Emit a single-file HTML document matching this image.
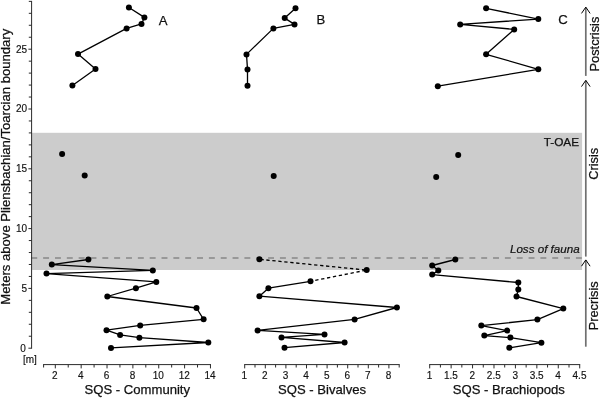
<!DOCTYPE html>
<html lang="en">
<head>
<meta charset="utf-8">
<title>SQS diversity across the Pliensbachian/Toarcian boundary</title>
<style>
html,body{margin:0;padding:0;background:#fff;}
body{width:600px;height:398px;overflow:hidden;}
svg{display:block;}
svg text{font-family:"Liberation Sans",sans-serif;fill:#111;stroke:#111;}
</style>
</head>
<body>
<svg width="600" height="398" viewBox="0 0 600 398">
<rect width="600" height="398" fill="#ffffff"/>
<rect x="31.7" y="132.8" width="550.4" height="137.2" fill="#cccccc"/>
<line x1="31.3" y1="258" x2="581.8" y2="258" stroke="#868686" stroke-width="1.3" stroke-dasharray="5.92 5.92"/>
<g stroke="#2a2a2a" stroke-width="1" fill="none"><line x1="31.6" y1="0.9" x2="31.6" y2="348.7"/><line x1="28.4" y1="348.20" x2="31.6" y2="348.20"/><line x1="28.8" y1="336.24" x2="31.6" y2="336.24"/><line x1="28.8" y1="324.28" x2="31.6" y2="324.28"/><line x1="28.8" y1="312.32" x2="31.6" y2="312.32"/><line x1="28.8" y1="300.36" x2="31.6" y2="300.36"/><line x1="28.4" y1="288.40" x2="31.6" y2="288.40"/><line x1="28.8" y1="276.44" x2="31.6" y2="276.44"/><line x1="28.8" y1="264.48" x2="31.6" y2="264.48"/><line x1="28.8" y1="252.52" x2="31.6" y2="252.52"/><line x1="28.8" y1="240.56" x2="31.6" y2="240.56"/><line x1="28.4" y1="228.60" x2="31.6" y2="228.60"/><line x1="28.8" y1="216.64" x2="31.6" y2="216.64"/><line x1="28.8" y1="204.68" x2="31.6" y2="204.68"/><line x1="28.8" y1="192.72" x2="31.6" y2="192.72"/><line x1="28.8" y1="180.76" x2="31.6" y2="180.76"/><line x1="28.4" y1="168.80" x2="31.6" y2="168.80"/><line x1="28.8" y1="156.84" x2="31.6" y2="156.84"/><line x1="28.8" y1="144.88" x2="31.6" y2="144.88"/><line x1="28.8" y1="132.92" x2="31.6" y2="132.92"/><line x1="28.8" y1="120.96" x2="31.6" y2="120.96"/><line x1="28.4" y1="109.00" x2="31.6" y2="109.00"/><line x1="28.8" y1="97.04" x2="31.6" y2="97.04"/><line x1="28.8" y1="85.08" x2="31.6" y2="85.08"/><line x1="28.8" y1="73.12" x2="31.6" y2="73.12"/><line x1="28.8" y1="61.16" x2="31.6" y2="61.16"/><line x1="28.4" y1="49.20" x2="31.6" y2="49.20"/><line x1="28.8" y1="37.24" x2="31.6" y2="37.24"/><line x1="28.8" y1="25.28" x2="31.6" y2="25.28"/><line x1="28.8" y1="13.32" x2="31.6" y2="13.32"/><line x1="28.8" y1="1.36" x2="31.6" y2="1.36"/><line x1="43.1" y1="364.6" x2="211.0" y2="364.6"/><line x1="55.30" y1="364.6" x2="55.30" y2="368.4"/><line x1="81.16" y1="364.6" x2="81.16" y2="368.4"/><line x1="107.02" y1="364.6" x2="107.02" y2="368.4"/><line x1="132.88" y1="364.6" x2="132.88" y2="368.4"/><line x1="158.74" y1="364.6" x2="158.74" y2="368.4"/><line x1="184.60" y1="364.6" x2="184.60" y2="368.4"/><line x1="210.46" y1="364.6" x2="210.46" y2="368.4"/><line x1="43.60" y1="364.6" x2="43.60" y2="367.5"/><line x1="68.23" y1="364.6" x2="68.23" y2="367.5"/><line x1="94.09" y1="364.6" x2="94.09" y2="367.5"/><line x1="119.95" y1="364.6" x2="119.95" y2="367.5"/><line x1="145.81" y1="364.6" x2="145.81" y2="367.5"/><line x1="171.67" y1="364.6" x2="171.67" y2="367.5"/><line x1="197.53" y1="364.6" x2="197.53" y2="367.5"/><line x1="244.2" y1="364.6" x2="399.7" y2="364.6"/><line x1="244.70" y1="364.6" x2="244.70" y2="368.4"/><line x1="265.30" y1="364.6" x2="265.30" y2="368.4"/><line x1="285.90" y1="364.6" x2="285.90" y2="368.4"/><line x1="306.50" y1="364.6" x2="306.50" y2="368.4"/><line x1="327.10" y1="364.6" x2="327.10" y2="368.4"/><line x1="347.70" y1="364.6" x2="347.70" y2="368.4"/><line x1="368.30" y1="364.6" x2="368.30" y2="368.4"/><line x1="388.90" y1="364.6" x2="388.90" y2="368.4"/><line x1="255.00" y1="364.6" x2="255.00" y2="367.5"/><line x1="275.60" y1="364.6" x2="275.60" y2="367.5"/><line x1="296.20" y1="364.6" x2="296.20" y2="367.5"/><line x1="316.80" y1="364.6" x2="316.80" y2="367.5"/><line x1="337.40" y1="364.6" x2="337.40" y2="367.5"/><line x1="358.00" y1="364.6" x2="358.00" y2="367.5"/><line x1="378.60" y1="364.6" x2="378.60" y2="367.5"/><line x1="399.20" y1="364.6" x2="399.20" y2="367.5"/><line x1="429.2" y1="364.6" x2="580.2" y2="364.6"/><line x1="429.70" y1="364.6" x2="429.70" y2="368.4"/><line x1="451.13" y1="364.6" x2="451.13" y2="368.4"/><line x1="472.56" y1="364.6" x2="472.56" y2="368.4"/><line x1="493.99" y1="364.6" x2="493.99" y2="368.4"/><line x1="515.42" y1="364.6" x2="515.42" y2="368.4"/><line x1="536.85" y1="364.6" x2="536.85" y2="368.4"/><line x1="558.28" y1="364.6" x2="558.28" y2="368.4"/><line x1="579.71" y1="364.6" x2="579.71" y2="368.4"/><line x1="440.41" y1="364.6" x2="440.41" y2="367.5"/><line x1="461.84" y1="364.6" x2="461.84" y2="367.5"/><line x1="483.27" y1="364.6" x2="483.27" y2="367.5"/><line x1="504.70" y1="364.6" x2="504.70" y2="367.5"/><line x1="526.13" y1="364.6" x2="526.13" y2="367.5"/><line x1="547.56" y1="364.6" x2="547.56" y2="367.5"/><line x1="569.00" y1="364.6" x2="569.00" y2="367.5"/></g>
<g stroke="#000" stroke-width="1.3" fill="none" stroke-linejoin="round">
<polyline points="111.0,347.9 208.3,342.5 139.4,337.7 120.1,334.9 106.5,330.2 140.2,325.4 203.6,319.3 196.5,308.0 107.3,296.5 135.9,288.2 156.3,281.9 46.5,273.6 152.8,270.4 51.8,264.6 88.4,259.5" />
<polyline points="72.4,85.5 95.5,69.0 78.0,54.1 126.6,28.4 141.5,23.9 144.4,17.4 128.9,7.5" />
<polyline points="284.5,347.7 344.6,342.5 281.5,337.4 324.5,334.4 257.6,330.4 354.6,319.4 396.9,307.5 259.4,296.2 268.4,288.2 310.5,281.3" />
<polyline points="247.5,85.8 247.5,69.4 246.5,54.4 273.4,28.4 294.5,24.4 284.7,18.1 295.5,8.3" />
<polyline points="509.3,347.8 541.4,342.7 510.4,337.6 484.3,335.6 507.2,330.6 481.3,325.6 537.4,319.6 563.3,308.6 516.5,296.5 518.3,289.5 518.3,282.5 432.2,274.6 438.3,270.4 432.2,265.5 455.3,259.5" />
<polyline points="437.8,86.2 538.3,69.3 486.1,54.3 514.2,29.4 460.2,24.4 538.3,19.1 486.1,8.3" />
<polyline points="259.4,259.3 366.7,270.1 310.5,281.3" stroke-dasharray="3.3 2.7" stroke-dashoffset="-1"/>
</g>
<g fill="#000">
<circle cx="111.0" cy="347.9" r="3.0"/><circle cx="208.3" cy="342.5" r="3.0"/><circle cx="139.4" cy="337.7" r="3.0"/><circle cx="120.1" cy="334.9" r="3.0"/><circle cx="106.5" cy="330.2" r="3.0"/><circle cx="140.2" cy="325.4" r="3.0"/><circle cx="203.6" cy="319.3" r="3.0"/><circle cx="196.5" cy="308.0" r="3.0"/><circle cx="107.3" cy="296.5" r="3.0"/><circle cx="135.9" cy="288.2" r="3.0"/><circle cx="156.3" cy="281.9" r="3.0"/><circle cx="46.5" cy="273.6" r="3.0"/><circle cx="152.8" cy="270.4" r="3.0"/><circle cx="51.8" cy="264.6" r="3.0"/><circle cx="88.4" cy="259.5" r="3.0"/>
<circle cx="62.1" cy="154.0" r="3.0"/><circle cx="84.7" cy="175.4" r="3.0"/>
<circle cx="72.4" cy="85.5" r="3.0"/><circle cx="95.5" cy="69.0" r="3.0"/><circle cx="78.0" cy="54.1" r="3.0"/><circle cx="126.6" cy="28.4" r="3.0"/><circle cx="141.5" cy="23.9" r="3.0"/><circle cx="144.4" cy="17.4" r="3.0"/><circle cx="128.9" cy="7.5" r="3.0"/>
<circle cx="284.5" cy="347.7" r="3.0"/><circle cx="344.6" cy="342.5" r="3.0"/><circle cx="281.5" cy="337.4" r="3.0"/><circle cx="324.5" cy="334.4" r="3.0"/><circle cx="257.6" cy="330.4" r="3.0"/><circle cx="354.6" cy="319.4" r="3.0"/><circle cx="396.9" cy="307.5" r="3.0"/><circle cx="259.4" cy="296.2" r="3.0"/><circle cx="268.4" cy="288.2" r="3.0"/><circle cx="310.5" cy="281.3" r="3.0"/>
<circle cx="366.7" cy="270.1" r="3.0"/><circle cx="259.4" cy="259.3" r="3.0"/>
<circle cx="273.7" cy="175.9" r="3.0"/>
<circle cx="247.5" cy="85.8" r="3.0"/><circle cx="247.5" cy="69.4" r="3.0"/><circle cx="246.5" cy="54.4" r="3.0"/><circle cx="273.4" cy="28.4" r="3.0"/><circle cx="294.5" cy="24.4" r="3.0"/><circle cx="284.7" cy="18.1" r="3.0"/><circle cx="295.5" cy="8.3" r="3.0"/>
<circle cx="509.3" cy="347.8" r="3.0"/><circle cx="541.4" cy="342.7" r="3.0"/><circle cx="510.4" cy="337.6" r="3.0"/><circle cx="484.3" cy="335.6" r="3.0"/><circle cx="507.2" cy="330.6" r="3.0"/><circle cx="481.3" cy="325.6" r="3.0"/><circle cx="537.4" cy="319.6" r="3.0"/><circle cx="563.3" cy="308.6" r="3.0"/><circle cx="516.5" cy="296.5" r="3.0"/><circle cx="518.3" cy="289.5" r="3.0"/><circle cx="518.3" cy="282.5" r="3.0"/><circle cx="432.2" cy="274.6" r="3.0"/><circle cx="438.3" cy="270.4" r="3.0"/><circle cx="432.2" cy="265.5" r="3.0"/><circle cx="455.3" cy="259.5" r="3.0"/>
<circle cx="458.2" cy="155.1" r="3.0"/><circle cx="436.2" cy="177.1" r="3.0"/>
<circle cx="437.8" cy="86.2" r="3.0"/><circle cx="538.3" cy="69.3" r="3.0"/><circle cx="486.1" cy="54.3" r="3.0"/><circle cx="514.2" cy="29.4" r="3.0"/><circle cx="460.2" cy="24.4" r="3.0"/><circle cx="538.3" cy="19.1" r="3.0"/><circle cx="486.1" cy="8.3" r="3.0"/>
</g>
<line x1="585.8" y1="7.5" x2="585.8" y2="75.9" stroke="#707070" stroke-width="1.7"/><polyline points="581.5,13.4 585.8,7.1 590.1,13.4" stroke="#000" stroke-width="1" fill="none"/>
<line x1="585.8" y1="80.7" x2="585.8" y2="256.6" stroke="#707070" stroke-width="1.7"/><polyline points="581.5,86.6 585.8,80.3 590.1,86.6" stroke="#000" stroke-width="1" fill="none"/>
<line x1="585.8" y1="260.3" x2="585.8" y2="346.7" stroke="#707070" stroke-width="1.7"/><polyline points="581.5,266.2 585.8,259.9 590.1,266.2" stroke="#000" stroke-width="1" fill="none"/>
<g font-size="10" text-anchor="end" stroke-width="0.15">
<text x="25.8" y="352.1">0</text>
<text x="27.1" y="291.7">5</text>
<text x="27.1" y="231.9">10</text>
<text x="27.1" y="172.1">15</text>
<text x="27.1" y="112.3">20</text>
<text x="27.1" y="52.5">25</text>
</g>
<text x="22.9" y="362.9" font-size="10" stroke-width="0.15">[m]</text>
<g font-size="10" text-anchor="middle" stroke-width="0.15">
<text x="54.9" y="378.8">2</text>
<text x="80.8" y="378.8">4</text>
<text x="106.6" y="378.8">6</text>
<text x="132.5" y="378.8">8</text>
<text x="158.3" y="378.8">10</text>
<text x="184.2" y="378.8">12</text>
<text x="210.1" y="378.8">14</text>
<text x="244.3" y="378.8">1</text>
<text x="264.9" y="378.8">2</text>
<text x="285.5" y="378.8">3</text>
<text x="306.1" y="378.8">4</text>
<text x="326.7" y="378.8">5</text>
<text x="347.3" y="378.8">6</text>
<text x="367.9" y="378.8">7</text>
<text x="388.5" y="378.8">8</text>
<text x="429.5" y="378.8">1</text>
<text x="450.9" y="378.8">1.5</text>
<text x="472.4" y="378.8">2</text>
<text x="493.8" y="378.8">2.5</text>
<text x="515.2" y="378.8">3</text>
<text x="536.6" y="378.8">3.5</text>
<text x="558.1" y="378.8">4</text>
<text x="579.5" y="378.8">4.5</text>
</g>
<g font-size="13.1" text-anchor="middle" stroke-width="0.25">
<text x="137.3" y="393.6">SQS - Community</text>
<text x="322" y="393.6">SQS - Bivalves</text>
<text x="508.8" y="393.6">SQS - Brachiopods</text>
<text x="163" y="25">A</text>
<text x="320.9" y="24.1">B</text>
<text x="563.1" y="24.1">C</text>
<text transform="translate(10.3,166.7) rotate(-90)">Meters above Pliensbachian/Toarcian boundary</text>
<text transform="translate(598.5,44.1) rotate(-90)" font-size="12.8">Postcrisis</text>
<text transform="translate(598.3,163.8) rotate(-90)" font-size="12.8">Crisis</text>
<text transform="translate(598.3,305.8) rotate(-90)" font-size="12.8">Precrisis</text>
</g>
<text x="579.1" y="145.7" font-size="11.8" text-anchor="end" stroke-width="0.25">T-OAE</text>
<text x="579.6" y="253.2" font-size="11.6" font-style="italic" text-anchor="end" stroke-width="0.2">Loss of fauna</text>
</svg>
</body>
</html>
